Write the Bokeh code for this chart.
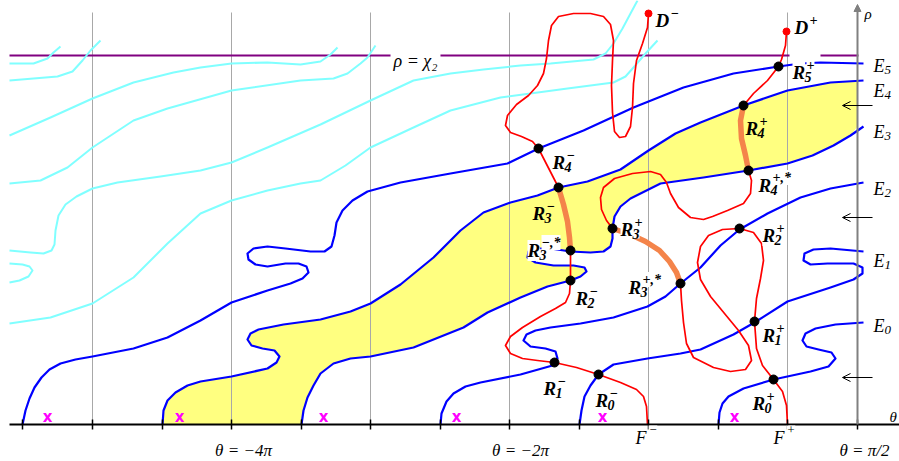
import numpy as np
from bokeh.plotting import figure
from bokeh.models import Range1d, ColumnDataSource, Arrow, OpenHead, NormalHead
from bokeh.core.properties import value
from bokeh.embed import file_html
from bokeh.resources import INLINE

# ---------------- data (diagram units: theta to the right, rho measured downward from the top) -------------
theta_ticks = [22, 92, 162, 231, 301, 370, 440, 509, 579, 648, 718, 787, 857]
grid_theta = [92, 231, 370, 509, 648, 787]
chi2_level = 55
axis_level = 424

cyan_curves = [
    [(9, 63), (33, 63), (47, 58), (53, 52), (60, 46)],
    [(9, 80), (33, 78), (57, 76), (72, 71), (82, 60), (90, 50), (100, 40)],
    [(9, 135), (50, 117), (92, 98), (133, 82), (173, 72), (200, 67), (231, 63), (267, 62), (300, 64),
     (320, 61), (330, 54), (337, 47)],
    [(9, 183), (40, 180), (67, 167), (92, 147), (133, 120), (167, 108), (231, 90), (300, 80), (333, 78),
     (347, 73), (360, 63), (367, 57), (375, 45)],
    [(9, 250), (30, 252), (43, 253), (51, 250), (54, 244), (55, 230), (58, 215), (65, 204), (76, 196),
     (92, 188), (117, 182), (160, 176), (200, 170), (231, 162), (267, 147), (320, 124), (370, 100),
     (413, 80), (450, 73), (483, 69), (520, 65), (550, 63), (593, 59), (605, 53), (613, 43), (622, 28),
     (630, 13), (637, 0)],
    [(9, 323), (50, 317), (92, 303), (133, 277), (167, 243), (200, 213), (231, 200), (267, 190), (300, 183),
     (320, 180), (345, 165), (370, 147), (413, 127), (450, 110), (500, 97), (567, 88), (613, 82),
     (625, 76), (633, 67), (645, 53), (657, 40)],
    [(9, 263), (22, 264), (29, 266), (32, 270), (28, 276), (19, 280), (9, 282)],
]

blue_E5 = [(22, 424), (25, 410), (29, 398), (34, 387), (41, 377), (49, 369), (60, 363), (75, 359), (92, 356),
           (133, 348), (167, 337), (200, 320), (231, 302), (267, 290), (290, 283), (302, 278), (308, 272),
           (306, 266), (298, 263), (285, 263), (267, 266), (255, 264), (248, 259), (247, 253), (253, 248),
           (267, 246), (285, 248), (310, 251), (324, 251), (331, 246), (334, 235), (336, 222), (342, 210),
           (352, 200), (367, 191), (400, 182), (450, 173), (507, 163), (538, 148), (583, 130), (633, 107),
           (683, 87), (733, 73), (778, 66), (800, 63), (820, 62), (863, 63)]
blue_E4 = [(162, 424), (163, 410), (167, 400), (175, 392), (187, 385), (200, 381), (231, 376), (267, 368),
           (276, 362), (279, 356), (274, 350), (262, 348), (251, 345), (247, 339), (250, 333), (258, 329),
           (283, 324), (320, 319), (350, 311), (370, 303), (400, 284), (433, 257), (460, 230), (483, 212),
           (510, 202), (537, 195), (558, 187), (587, 181), (620, 169), (648, 150), (675, 133), (700, 122),
           (743, 105), (787, 90), (830, 82), (863, 80)]
blue_E3 = [(301, 424), (303, 410), (307, 397), (313, 385), (320, 373), (333, 363), (350, 358), (370, 356),
           (413, 347), (463, 327), (487, 312), (520, 297), (547, 286), (570, 280), (580, 276), (586, 271),
           (584, 267), (573, 265), (553, 265), (535, 262), (527, 257), (528, 251), (535, 248), (550, 248),
           (570, 251), (590, 252), (603, 251), (610, 246), (612, 238), (612, 228), (614, 216), (620, 206),
           (630, 198), (660, 183), (703, 177), (748, 170), (787, 163), (812, 155), (833, 145), (850, 135),
           (863, 126)]
blue_E2 = [(440, 424), (441, 413), (446, 401), (453, 393), (465, 386), (480, 382), (520, 374), (552, 365),
           (557, 358), (555, 351), (545, 348), (530, 346), (523, 340), (526, 334), (535, 330), (550, 327),
           (580, 323), (613, 317), (647, 306), (665, 296), (680, 283), (700, 267), (720, 245), (739, 229),
           (767, 213), (800, 197), (830, 188), (863, 182)]
blue_E1 = [(579, 424), (581, 410), (584, 396), (590, 385), (598, 374), (613, 364), (647, 358), (680, 353),
           (700, 349), (733, 334), (754, 322), (787, 301), (830, 287), (853, 279), (862, 273), (862, 267),
           (853, 263), (827, 263), (810, 264), (803, 260), (804, 253), (813, 249), (830, 248), (863, 251)]
blue_E0 = [(718, 424), (719, 412), (722, 403), (728, 396), (743, 388), (773, 379), (810, 371), (828, 366),
           (835, 358), (831, 352), (818, 349), (806, 346), (802, 340), (805, 333), (815, 328), (835, 324),
           (863, 322)]
blue_curves = [blue_E5, blue_E4, blue_E3, blue_E2, blue_E1, blue_E0]

red_minus = [
    [(648, 13), (647, 27), (642, 43), (636, 60), (633, 83), (632, 107), (630, 126), (625, 136), (619, 137),
     (614, 131), (612, 112), (611, 85), (612, 60), (613, 40), (610, 24), (603, 16), (590, 13), (573, 13),
     (558, 16), (551, 25), (548, 40), (546, 58), (543, 73), (537, 85), (528, 95), (516, 104), (507, 115),
     (505, 125), (510, 132), (521, 136), (532, 141), (538, 148), (558, 187)],
    [(570, 250), (570, 280)],
    [(570, 280), (569, 293), (565, 302), (555, 308), (540, 316), (522, 327), (510, 336), (505, 345),
     (510, 353), (522, 358), (537, 360), (554, 362), (576, 367), (598, 374), (620, 382), (636, 389),
     (643, 396), (646, 406), (647, 424)],
]
red_plus = [
    [(786, 31), (785, 45), (781, 59), (778, 66), (767, 80), (753, 93), (743, 105)],
    [(748, 170), (751, 180), (750, 193), (743, 203), (727, 210), (712, 216), (703, 219), (690, 217),
     (678, 207), (670, 193), (666, 182), (660, 174), (650, 171), (632, 173), (614, 178), (603, 187),
     (600, 197), (601, 209), (606, 220), (612, 228)],
    [(680, 283), (681, 300), (683, 322), (686, 343), (693, 357), (713, 367), (730, 371), (745, 369),
     (751, 360), (748, 345), (738, 330), (724, 313), (710, 296), (700, 279), (697, 262), (700, 246),
     (708, 235), (722, 229), (739, 228), (753, 232), (761, 243), (763, 260), (760, 278), (756, 298),
     (754, 321), (756, 348), (762, 365), (773, 379), (782, 391), (786, 405), (787, 424)],
]
orange_segments = [
    [(558, 187), (563, 204), (567, 221), (569, 237), (570, 250)],
    [(743, 105), (740, 120), (741, 138), (745, 155), (748, 170)],
    [(612, 228), (630, 234), (645, 241), (659, 250), (669, 261), (676, 272), (680, 283)],
]

R_points_theta = [598, 554, 570, 570, 558, 538, 773, 754, 739, 680, 612, 748, 743, 778]
R_points_rho = [374, 362, 280, 250, 187, 148, 379, 321, 228, 283, 228, 170, 105, 66]
D_points_theta = [648, 786]
D_points_rho = [13, 31]

x_marks_theta = [47, 179, 323, 456, 602, 734]
arrow_rows = [105, 217, 377]

# label table: base, superscript, subscript, left, baseline, white box
R_labels = [
    ("R", "+", "5", 792, 72, 1), ("R", "+", "4", 745, 128, 0), ("R", "+,*", "4", 758, 185, 1),
    ("R", "\u2212", "4", 552, 162, 1), ("R", "\u2212", "3", 532, 213, 0), ("R", "\u2212,*", "3", 527, 250, 1),
    ("R", "+", "3", 620, 229, 1), ("R", "\u2212", "2", 575, 298, 1), ("R", "+", "2", 762, 235, 1),
    ("R", "+,*", "3", 628, 287, 1), ("R", "+", "1", 762, 335, 1), ("R", "\u2212", "1", 543, 388, 1),
    ("R", "\u2212", "0", 595, 400, 1), ("R", "+", "0", 752, 403, 1),
]
D_labels = [("D", "\u2212", "", 655, 20, 1), ("D", "+", "", 794, 27, 1)]
E_labels = [("E", "", "5", 873, 65), ("E", "", "4", 873, 90), ("E", "", "3", 873, 131),
            ("E", "", "2", 873, 188), ("E", "", "1", 873, 260), ("E", "", "0", 873, 325)]
bottom_labels = [("\u03b8 = \u22124\u03c0", 243), ("\u03b8 = \u22122\u03c0", 520), ("\u03b8 = \u03c0/2", 864)]
F_labels = [("F", "\u2212", 635), ("F", "+", 773)]

# ---------------- figure ----------------
p = figure(width=899, height=461, x_range=Range1d(0, 899), y_range=Range1d(461, 0),
           output_backend="svg", toolbar_location=None, min_border=0,
           x_axis_type=None, y_axis_type=None)
p.outline_line_color = None
p.background_fill_color = "white"

SERIF = value("Liberation Serif")
SANS = value("DejaVu Sans")

def xs_ys(curves):
    return [[pt[0] for pt in c] for c in curves], [[pt[1] for pt in c] for c in curves]

# yellow band between E4 (upper) and E3 (lower) curves, up to the rho axis
up = np.array(blue_E4, dtype=float)
lo = np.array(blue_E3, dtype=float)
up[:, 0] = np.minimum(up[:, 0], theta_ticks[-1])
lo[:, 0] = np.minimum(lo[:, 0], theta_ticks[-1])
poly = np.vstack([up, lo[::-1]])
p.patch(poly[:, 0], poly[:, 1], fill_color="#FFFF80", line_color=None)

# grid lines
p.segment(x0=grid_theta, y0=[12] * len(grid_theta), x1=grid_theta, y1=[axis_level] * len(grid_theta),
          line_color="#A8A8A8", line_width=1)

# chi_2 level (interrupted by the R5+ label)
p.multi_line([[9, 789], [820, 858]], [[chi2_level, chi2_level], [chi2_level, chi2_level]],
             line_color="#800080", line_width=2)

cx, cy = xs_ys(cyan_curves)
p.multi_line(cx, cy, line_color="#80FFFF", line_width=2, line_join="round")
bx, by = xs_ys(blue_curves)
p.multi_line(bx, by, line_color="#0000FF", line_width=2.2, line_join="round")
rx, ry = xs_ys(red_minus + red_plus)
p.multi_line(rx, ry, line_color="#FF0000", line_width=1.7, line_join="round")
ox, oy = xs_ys(orange_segments)
p.multi_line(ox, oy, line_color="#F4844A", line_width=5.5, line_join="round", line_cap="butt")

# axes
p.line([9, 899], [axis_level, axis_level], line_color="black", line_width=2)
p.segment(x0=theta_ticks, y0=[axis_level - 5] * len(theta_ticks), x1=theta_ticks,
          y1=[axis_level + 5] * len(theta_ticks), line_color="black", line_width=1.5)
p.add_layout(Arrow(end=NormalHead(size=7, fill_color="#808080", line_color="#808080"),
                   x_start=theta_ticks[-1], y_start=axis_level, x_end=theta_ticks[-1], y_end=4,
                   line_color="#808080", line_width=2))
for r in arrow_rows:
    p.add_layout(Arrow(end=OpenHead(size=8, line_width=1, line_color="black"),
                       x_start=872, y_start=r, x_end=842, y_end=r, line_color="black", line_width=1))

# points
p.scatter(R_points_theta, R_points_rho, size=9, color="black")
p.scatter(D_points_theta, D_points_rho, size=7, color="#FF0000")

# labels with sub/superscripts
def math_text(items, fs_base, fs_small, style, sup_dx, sub_dx, sup_dy, sub_dy):
    base = dict(x=[], y=[], t=[], a=[])
    sup = dict(x=[], y=[], t=[], a=[])
    sub = dict(x=[], y=[], t=[], a=[])
    for (b, sp, sb, x, y, bg) in items:
        base["x"].append(x); base["y"].append(y); base["t"].append(b); base["a"].append(bg)
        if sp:
            sup["x"].append(x + sup_dx); sup["y"].append(y - sup_dy); sup["t"].append(sp); sup["a"].append(bg)
        if sb:
            sub["x"].append(x + sub_dx); sub["y"].append(y + sub_dy); sub["t"].append(sb); sub["a"].append(bg)
    for d, fs in ((base, fs_base), (sup, fs_small), (sub, fs_small)):
        if d["x"]:
            p.text(x="x", y="y", text="t", source=ColumnDataSource(d), text_font=SERIF,
                   text_font_size=fs, text_font_style=style, text_color="black",
                   text_align="left", text_baseline="alphabetic",
                   background_fill_color="white", background_fill_alpha="a")

math_text(R_labels, "19px", "14px", "bold italic", 14, 12, 8, 4)
math_text(D_labels, "19px", "14px", "bold italic", 15, 12, 8, 4)
math_text([(b, sp, sb, x, y, 0) for (b, sp, sb, x, y) in E_labels], "18px", "13px", "italic", 13, 11, 7, 4)
math_text([(b, sp, "", x, 437, 1) for (b, sp, x) in F_labels], "18px", "13px", "italic", 13, 11, 8, 4)

p.text(x=[415], y=[60], text=["\u03c1 = \u03c7\u2082"], text_font=SERIF,
       text_font_size="18px", text_font_style="italic", text_align="center", text_baseline="alphabetic",
       background_fill_color="white", padding=3)
p.text(x=[b[1] for b in bottom_labels], y=[450] * len(bottom_labels), text=[b[0] for b in bottom_labels],
       text_font=SERIF, text_font_size="17px", text_font_style="italic", text_align="center",
       text_baseline="alphabetic")
p.text(x=[864], y=[13], text=["\u03c1"], text_font=SERIF, text_font_size="15px",
       text_font_style="italic", text_align="left", text_baseline="alphabetic")
p.text(x=[889], y=[416], text=["\u03b8"], text_font=SERIF, text_font_size="15px",
       text_font_style="italic", text_align="left", text_baseline="alphabetic")

p.text(x=x_marks_theta, y=[416] * len(x_marks_theta), text=["x"] * len(x_marks_theta), text_font=SANS,
       text_font_size="15px", text_font_style="bold", text_color="#FF00FF", text_align="center",
       text_baseline="alphabetic")

open("out.html", "w").write(file_html(p, INLINE))
